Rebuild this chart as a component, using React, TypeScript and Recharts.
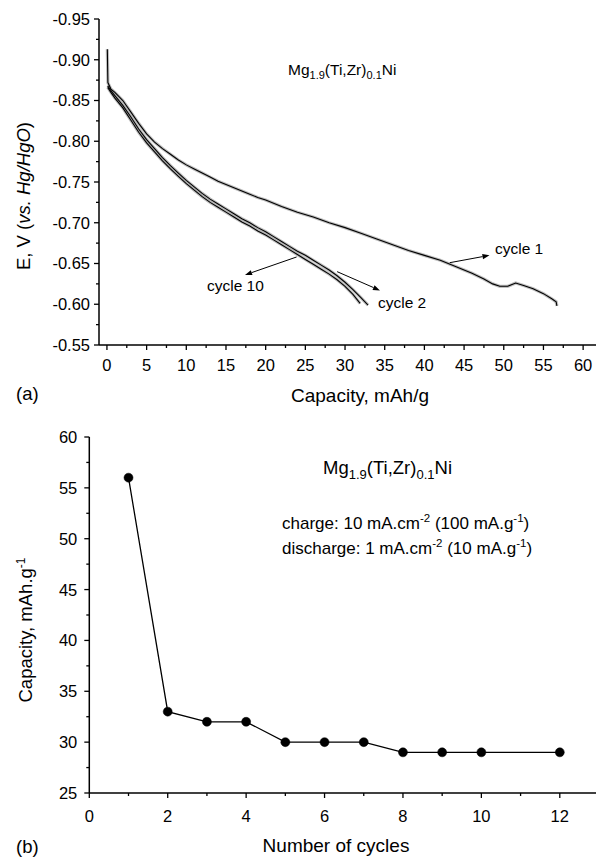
import React from 'react';
import { LineChart, Line, XAxis, YAxis, ReferenceLine } from 'recharts';

const FONT = '"Liberation Sans", Arial, Helvetica, sans-serif';

// ---- Panel (a): discharge curves ----
const cycle1Cap = [0.05, 0.12, 0.5, 1, 2, 3, 4, 5, 6, 7, 8, 9, 10, 11, 12, 13, 14, 15, 16, 17, 18, 19, 20, 22, 24, 26, 28, 30, 32, 34, 36, 38, 40, 42, 44, 46, 47.5, 48.6, 49.5, 50.5, 51.5, 52.5, 53.7, 55, 56, 56.6, 56.7];
const cycle1E = [-0.913, -0.872, -0.864, -0.86, -0.85, -0.836, -0.822, -0.809, -0.799, -0.791, -0.784, -0.777, -0.771, -0.766, -0.761, -0.756, -0.751, -0.747, -0.743, -0.739, -0.735, -0.731, -0.728, -0.72, -0.713, -0.707, -0.7, -0.694, -0.687, -0.68, -0.673, -0.666, -0.66, -0.654, -0.646, -0.638, -0.631, -0.625, -0.622, -0.622, -0.626, -0.623, -0.619, -0.613, -0.607, -0.603, -0.598];

const cycle2Cap = [0.1, 0.5, 1, 2, 3, 4, 5, 6, 7, 8, 9, 10, 11, 12, 13, 14, 15, 16, 17, 18, 19, 20, 21, 22, 23, 24, 25, 26, 27, 28, 29, 30, 31, 32, 32.9];
const cycle2E = [-0.868, -0.862, -0.856, -0.844, -0.83, -0.815, -0.802, -0.791, -0.78, -0.77, -0.761, -0.752, -0.744, -0.736, -0.729, -0.723, -0.717, -0.711, -0.705, -0.7, -0.694, -0.689, -0.683, -0.677, -0.671, -0.665, -0.66, -0.654, -0.648, -0.642, -0.635, -0.627, -0.618, -0.608, -0.599];

const cycle10Cap = [0.1, 0.5, 1, 2, 3, 4, 5, 6, 7, 8, 9, 10, 11, 12, 13, 14, 15, 16, 17, 18, 19, 20, 21, 22, 23, 24, 25, 26, 27, 28, 29, 30, 31, 31.9];
const cycle10E = [-0.866, -0.86, -0.853, -0.841, -0.826, -0.811, -0.798, -0.787, -0.776, -0.766, -0.757, -0.748, -0.74, -0.732, -0.725, -0.719, -0.713, -0.707, -0.701, -0.696, -0.69, -0.685, -0.679, -0.673, -0.667, -0.661, -0.655, -0.649, -0.643, -0.637, -0.63, -0.622, -0.612, -0.601];

const eMajorTicks = [-0.95, -0.9, -0.85, -0.8, -0.75, -0.7, -0.65, -0.6, -0.55];
const capMajorTicks = [0, 5, 10, 15, 20, 25, 30, 35, 40, 45, 50, 55, 60];

// arrows for cycle labels: [fromCap, fromE, toCap, toE]
const arrowCycle1 = [43.2, -0.651, 48.2, -0.66];
const arrowCycle2 = [29.0, -0.64, 34.4, -0.617];
const arrowCycle10 = [23.9, -0.658, 17.4, -0.636];

// ---- Panel (b): capacity vs cycle ----
const cycleNumbers = [1, 2, 3, 4, 5, 6, 7, 8, 9, 10, 12];
const capacityValues = [56, 33, 32, 32, 30, 30, 30, 29, 29, 29, 29];
const capYMajorTicks = [25, 30, 35, 40, 45, 50, 55, 60];
const cycleMajorTicks = [0, 2, 4, 6, 8, 10, 12];

const withMinor = (majors: number[]) => {
  const out: number[] = [];
  majors.forEach((m, i) => {
    out.push(m);
    if (i < majors.length - 1) out.push((m + majors[i + 1]) / 2);
  });
  return out;
};

const toSeries = (xs: number[], ys: number[]) => xs.map((x, i) => ({ cap: x, e: ys[i] }));
const cycle1Data = toSeries(cycle1Cap, cycle1E);
const cycle2Data = toSeries(cycle2Cap, cycle2E);
const cycle10Data = toSeries(cycle10Cap, cycle10E);
const capacityData = cycleNumbers.map((c, i) => ({ cycle: c, cap: capacityValues[i] }));

const isMajor = (v: number, majors: number[]) => majors.some((m) => Math.abs(m - v) < 1e-6);

const makeYTick = (majors: number[], fmt: (v: number) => string, gap: number) => (props: any) => {
  const { x, y, payload } = props;
  const major = isMajor(payload.value, majors);
  return (
    <g>
      <line x1={x - (major ? 5 : 3)} x2={x} y1={y} y2={y} stroke="#000" strokeWidth={1.3} />
      {major && (
        <text x={x - gap} y={y} dy="0.36em" textAnchor="end" fontSize={16.5} fontFamily={FONT} fill="#000">
          {fmt(payload.value)}
        </text>
      )}
    </g>
  );
};

const makeXTick = (majors: number[], fmt: (v: number) => string, offset: number) => (props: any) => {
  const { x, y, payload } = props;
  const major = isMajor(payload.value, majors);
  return (
    <g>
      <line x1={x} x2={x} y1={y} y2={y + (major ? 5 : 3)} stroke="#000" strokeWidth={1.3} />
      {major && (
        <text x={x} y={y + offset} textAnchor="middle" fontSize={16.5} fontFamily={FONT} fill="#000">
          {fmt(payload.value)}
        </text>
      )}
    </g>
  );
};

const ArrowShape = (p: any) => {
  const { x1, y1, x2, y2 } = p;
  const ang = Math.atan2(y2 - y1, x2 - x1);
  const len = 7;
  const hw = 2.6;
  const bx = x2 - len * Math.cos(ang);
  const by = y2 - len * Math.sin(ang);
  const px = -Math.sin(ang) * hw;
  const py = Math.cos(ang) * hw;
  return (
    <g>
      <line x1={x1} y1={y1} x2={bx} y2={by} stroke="#000" strokeWidth={1} />
      <polygon points={`${x2},${y2} ${bx + px},${by + py} ${bx - px},${by - py}`} fill="#000" />
    </g>
  );
};

const axisLineStyle = { stroke: '#000', strokeWidth: 1.5 };

export default function App() {
  const eTicks = withMinor(eMajorTicks);
  const capTicks = withMinor(capMajorTicks);
  const capYTicks = withMinor(capYMajorTicks);
  const cycTicks = withMinor(cycleMajorTicks);

  const series = [cycle1Data, cycle2Data, cycle10Data];

  return (
    <div
      style={{
        position: 'absolute',
        left: 0,
        top: 0,
        width: 596,
        height: 859,
        overflow: 'hidden',
        background: '#fff',
        fontFamily: FONT,
      }}
    >
      <div style={{ position: 'absolute', left: 0, top: 0 }}>
        <LineChart width={600} height={420} margin={{ top: 19, right: 1, bottom: 45, left: 39 }}>
          <XAxis
            dataKey="cap"
            type="number"
            domain={[-1, 62]}
            ticks={capTicks}
            interval={0}
            tickSize={0}
            tickMargin={0}
            tickLine={false}
            axisLine={axisLineStyle}
            tick={makeXTick(capMajorTicks, (v) => String(v), 26)}
            height={30}
            allowDataOverflow
          />
          <XAxis xAxisId="top" orientation="top" type="number" domain={[-1, 62]} height={0} tick={false} tickLine={false} axisLine={axisLineStyle} />
          <YAxis
            type="number"
            reversed
            domain={[-0.95, -0.55]}
            ticks={eTicks}
            interval={0}
            tickSize={0}
            tickMargin={0}
            tickLine={false}
            axisLine={axisLineStyle}
            tick={makeYTick(eMajorTicks, (v) => v.toFixed(2), 9)}
            width={60}
            allowDataOverflow
          />
          {series.map((d, i) => (
            <Line
              key={'halo' + i}
              data={d}
              dataKey="e"
              type="linear"
              stroke="#8a8a8a"
              strokeWidth={3.2}
              strokeOpacity={0.55}
              dot={false}
              isAnimationActive={false}
            />
          ))}
          {series.map((d, i) => (
            <Line
              key={'line' + i}
              data={d}
              dataKey="e"
              type="linear"
              stroke="#000"
              strokeWidth={1.1}
              dot={false}
              isAnimationActive={false}
            />
          ))}
          <ReferenceLine
            segment={[{ x: arrowCycle1[0], y: arrowCycle1[1] }, { x: arrowCycle1[2], y: arrowCycle1[3] }]}
            shape={ArrowShape}
          />
          <ReferenceLine
            segment={[{ x: arrowCycle2[0], y: arrowCycle2[1] }, { x: arrowCycle2[2], y: arrowCycle2[3] }]}
            shape={ArrowShape}
          />
          <ReferenceLine
            segment={[{ x: arrowCycle10[0], y: arrowCycle10[1] }, { x: arrowCycle10[2], y: arrowCycle10[3] }]}
            shape={ArrowShape}
          />
        </LineChart>
      </div>

      <div style={{ position: 'absolute', left: 0, top: 420 }}>
        <LineChart width={600} height={439} data={capacityData} margin={{ top: 17, right: 1, bottom: 36, left: 29.3 }}>
          <XAxis
            dataKey="cycle"
            type="number"
            domain={[0, 13]}
            ticks={cycTicks}
            interval={0}
            tickSize={0}
            tickMargin={0}
            tickLine={false}
            axisLine={axisLineStyle}
            tick={makeXTick(cycleMajorTicks, (v) => String(v), 29)}
            height={30}
            allowDataOverflow
          />
          <XAxis xAxisId="top" orientation="top" type="number" domain={[0, 13]} height={0} tick={false} tickLine={false} axisLine={axisLineStyle} />
          <YAxis
            type="number"
            domain={[25, 60]}
            ticks={capYTicks}
            interval={0}
            tickSize={0}
            tickMargin={0}
            tickLine={false}
            axisLine={axisLineStyle}
            tick={makeYTick(capYMajorTicks, (v) => String(v), 12)}
            width={60}
            allowDataOverflow
          />
          <Line
            dataKey="cap"
            type="linear"
            stroke="#000"
            strokeWidth={1.3}
            dot={{ r: 4.5, fill: '#000', stroke: '#000', strokeWidth: 0.5 }}
            isAnimationActive={false}
          />
        </LineChart>
      </div>

      <svg
        width={596}
        height={859}
        style={{ position: 'absolute', left: 0, top: 0, pointerEvents: 'none' }}
        fontFamily={FONT}
        fill="#000"
      >
        {/* Panel (a) texts */}
        <text x={30} y={196} fontSize={18.5} textAnchor="middle" transform="rotate(-90 30 196)">
          E, V (<tspan fontStyle="italic">vs. Hg/HgO</tspan>)
        </text>
        <text x={16} y={400} fontSize={18.5}>(a)</text>
        <text x={360} y={402} fontSize={19} textAnchor="middle">Capacity, mAh/g</text>
        <text x={288} y={75} fontSize={15.5}>
          Mg<tspan fontSize={11} dy={4}>1.9</tspan>
          <tspan dy={-4}>(Ti,Zr)</tspan>
          <tspan fontSize={11} dy={4}>0.1</tspan>
          <tspan dy={-4}>Ni</tspan>
        </text>
        <text x={495} y={254} fontSize={15.5}>cycle 1</text>
        <text x={378} y={308} fontSize={15.5}>cycle 2</text>
        <text x={207} y={291} fontSize={15.5}>cycle 10</text>

        {/* Panel (b) texts */}
        <text x={32} y={630} fontSize={18.5} textAnchor="middle" transform="rotate(-90 32 630)">
          Capacity, mAh.g<tspan fontSize={12} dy={-7}>-1</tspan>
        </text>
        <text x={16} y={853} fontSize={18.5}>(b)</text>
        <text x={336} y={852} fontSize={19} textAnchor="middle">Number of cycles</text>
        <text x={323} y={474} fontSize={18.5}>
          Mg<tspan fontSize={13} dy={5}>1.9</tspan>
          <tspan dy={-5}>(Ti,Zr)</tspan>
          <tspan fontSize={13} dy={5}>0.1</tspan>
          <tspan dy={-5}>Ni</tspan>
        </text>
        <text x={282} y={529} fontSize={17}>
          charge: 10 mA.cm<tspan fontSize={11.5} dy={-7}>-2</tspan>
          <tspan dy={7}> (100 mA.g</tspan>
          <tspan fontSize={11.5} dy={-7}>-1</tspan>
          <tspan dy={7}>)</tspan>
        </text>
        <text x={282} y={554} fontSize={17}>
          discharge: 1 mA.cm<tspan fontSize={11.5} dy={-7}>-2</tspan>
          <tspan dy={7}> (10 mA.g</tspan>
          <tspan fontSize={11.5} dy={-7}>-1</tspan>
          <tspan dy={7}>)</tspan>
        </text>
      </svg>
    </div>
  );
}
